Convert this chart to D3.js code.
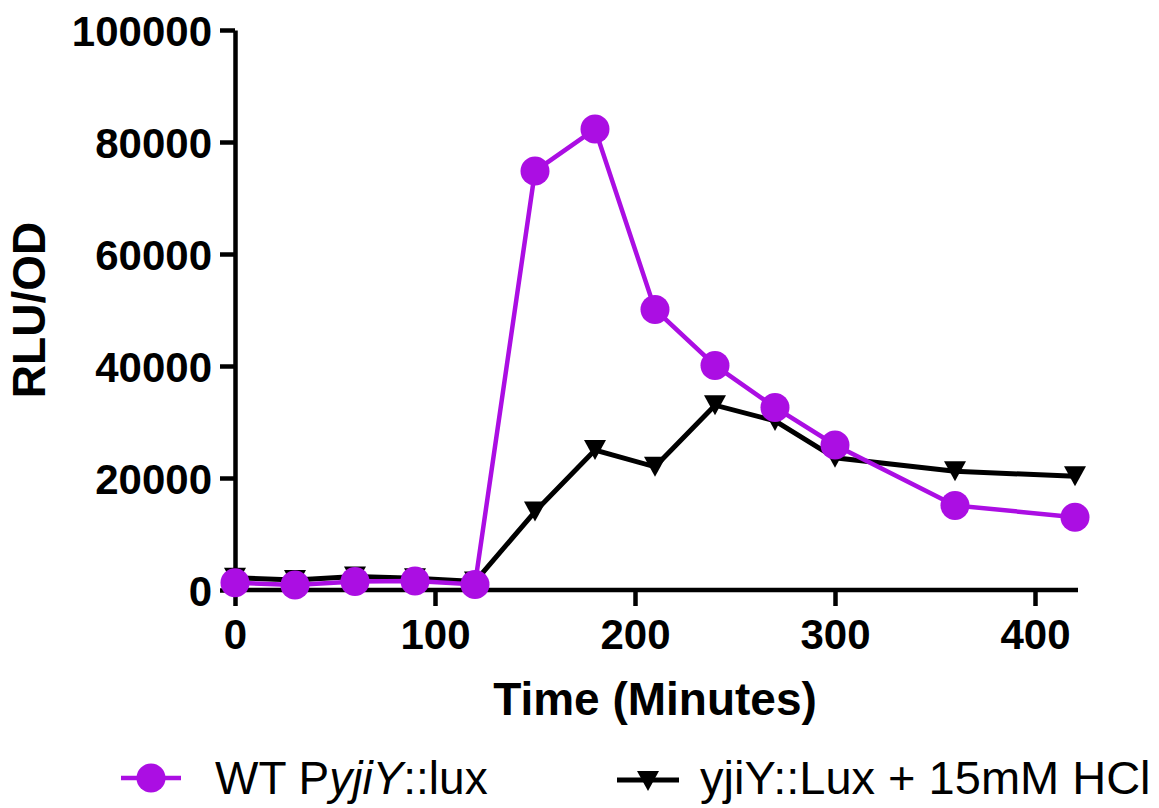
<!DOCTYPE html>
<html>
<head>
<meta charset="utf-8">
<script src="https://cdn.jsdelivr.net/npm/d3@7"></script>
<style>
  html, body { margin: 0; padding: 0; background: #fff; }
  svg { display: block; font-family: "Liberation Sans", Arial, sans-serif; }
</style>
</head>
<body>
<svg id="chart" width="1159" height="808"></svg>
<script>
// === Données ===
const temps = [0, 30, 60, 90, 120, 150, 180, 210, 240, 270, 300, 360, 420];
const wtLux = [1300, 900, 1500, 1600, 1000, 74800, 82300, 50100, 40100, 32600, 25900, 15100, 13000];
const hclLux = [2200, 1800, 2400, 2100, 1500, 14000, 25000, 22000, 33000, 30200, 23600, 21200, 20300];
const yTicks = [0, 20000, 40000, 60000, 80000, 100000];
const xTicks = [0, 100, 200, 300, 400];

const VIOLET = "#ab0ee3";

const svg = d3.select('#chart');
const x = d3.scaleLinear().domain([0, 420]).range([235, 1075]);
const y = d3.scaleLinear().domain([0, 100000]).range([590, 30]);

// === Axes ===
const axeY = svg.append('g')
  .attr('transform', `translate(${x(0)},0)`)
  .call(d3.axisLeft(y).tickValues(yTicks).tickSize(15).tickSizeOuter(0).tickPadding(8).tickFormat(d3.format('d')));

const axeX = svg.append('g')
  .attr('transform', `translate(0,${y(0)})`)
  .call(d3.axisBottom(x).tickValues(xTicks).tickSize(16).tickSizeOuter(0).tickPadding(13).tickFormat(d3.format('d')));

[axeY, axeX].forEach(a => {
  a.select('.domain').attr('stroke', '#000').attr('stroke-width', 4.5);
  a.selectAll('.tick line').attr('stroke', '#000').attr('stroke-width', 4.5);
  a.selectAll('.tick text')
    .attr('fill', '#000')
    .style('font-size', '42px')
    .style('font-weight', 'bold')
    .style('font-family', '"Liberation Sans", Arial, sans-serif');
});
axeX.select('.domain').attr('d', `M${x(0)},0H${x(420) + 3}`);
axeY.selectAll('.tick text').attr('dy', '0.36em');

// titres des axes
svg.append('text')
  .attr('x', (x(0) + x(420)) / 2)
  .attr('y', 715)
  .attr('text-anchor', 'middle')
  .style('font-size', '46px')
  .style('font-weight', 'bold')
  .text('Time (Minutes)');

svg.append('text')
  .attr('transform', `translate(45,${(y(0) + y(100000)) / 2}) rotate(-90)`)
  .attr('text-anchor', 'middle')
  .style('font-size', '46px')
  .style('font-weight', 'bold')
  .text('RLU/OD');

// === Courbes ===
const ligne = d3.line().x(d => x(d[0])).y(d => y(d[1]));
const triangle = (cx, cy) => `M${cx - 11},${cy - 10}L${cx + 11},${cy - 10}L${cx},${cy + 10}Z`;

const hclData = temps.map((t, i) => [t, hclLux[i]]);
const wtData = temps.map((t, i) => [t, wtLux[i]]);

svg.append('path')
  .datum(hclData)
  .attr('d', ligne)
  .attr('fill', 'none')
  .attr('stroke', '#000')
  .attr('stroke-width', 5);

svg.append('g').selectAll('path').data(hclData)
  .enter().append('path')
  .attr('d', d => triangle(x(d[0]), y(d[1])))
  .attr('fill', '#000');

svg.append('path')
  .datum(wtData)
  .attr('d', ligne)
  .attr('fill', 'none')
  .attr('stroke', VIOLET)
  .attr('stroke-width', 4.5);

svg.append('g').selectAll('circle').data(wtData)
  .enter().append('circle')
  .attr('cx', d => x(d[0]))
  .attr('cy', d => y(d[1]))
  .attr('r', 14.5)
  .attr('fill', VIOLET);

// === Légende ===
const leg1 = svg.append('g');
leg1.append('line').attr('x1', 121).attr('x2', 181).attr('y1', 778).attr('y2', 778)
  .attr('stroke', VIOLET).attr('stroke-width', 4.5);
leg1.append('circle').attr('cx', 151).attr('cy', 778).attr('r', 14.5).attr('fill', VIOLET);
const t1 = leg1.append('text').attr('x', 215).attr('y', 794).style('font-size', '46px');
t1.append('tspan').text('WT P');
t1.append('tspan').style('font-style', 'italic').text('yjiY');
t1.append('tspan').text('::lux');

const leg2 = svg.append('g');
leg2.append('line').attr('x1', 617).attr('x2', 679).attr('y1', 780).attr('y2', 780)
  .attr('stroke', '#000').attr('stroke-width', 5);
leg2.append('path').attr('d', triangle(648, 781)).attr('fill', '#000');
leg2.append('text').attr('x', 700).attr('y', 794).style('font-size', '47px')
  .text('yjiY::Lux + 15mM HCl');
</script>
</body>
</html>
